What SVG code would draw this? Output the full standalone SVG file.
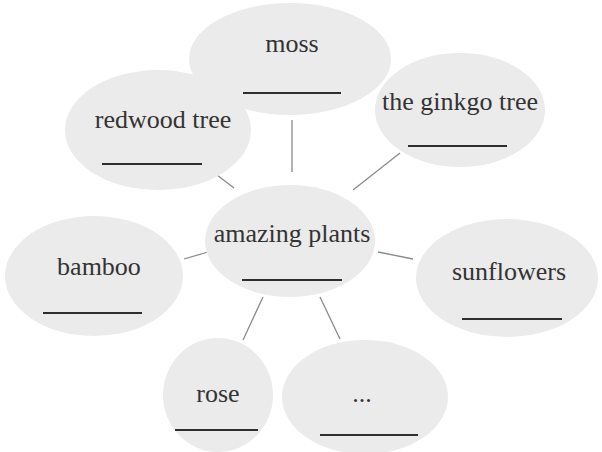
<svg xmlns="http://www.w3.org/2000/svg" width="602" height="452" viewBox="0 0 602 452">
<style>
.bub{fill:#ebebeb;stroke:none}
.lbl{font-family:"Liberation Serif","Times New Roman",serif;font-size:26px;fill:#333;text-anchor:middle}
.ul{stroke:#2e2e2e;stroke-width:2.2}
.con{stroke:#8a8a8a;stroke-width:1.3;fill:none}
</style>
<rect width="602" height="452" fill="#ffffff"/>
<g id="connectors">
<line class="con" x1="292" y1="120" x2="292" y2="172"/>
<line class="con" x1="217" y1="175" x2="234" y2="188"/>
<line class="con" x1="400" y1="153" x2="353" y2="190"/>
<line class="con" x1="184" y1="259" x2="208" y2="252"/>
<line class="con" x1="378" y1="252" x2="413" y2="259"/>
<line class="con" x1="263" y1="297" x2="243" y2="340"/>
<line class="con" x1="320" y1="297" x2="340" y2="339"/>
</g>
<g id="moss">
<ellipse class="bub" cx="290" cy="59" rx="101" ry="56"/>
<text class="lbl" x="292" y="52">moss</text>
<line class="ul" x1="243" y1="93" x2="341" y2="93"/>
</g>
<g id="ginkgo">
<ellipse class="bub" cx="460" cy="110" rx="85" ry="57"/>
<text class="lbl" x="460" y="110">the ginkgo tree</text>
<line class="ul" x1="408" y1="146" x2="507" y2="146"/>
</g>
<g id="redwood">
<ellipse class="bub" cx="158" cy="130" rx="93" ry="60"/>
<text class="lbl" x="163" y="128">redwood tree</text>
<line class="ul" x1="102" y1="164" x2="202" y2="164"/>
</g>
<g id="bamboo">
<ellipse class="bub" cx="94" cy="276" rx="89" ry="60"/>
<text class="lbl" x="99" y="275">bamboo</text>
<line class="ul" x1="43" y1="313" x2="142" y2="313"/>
</g>
<g id="center">
<ellipse class="bub" cx="290" cy="241" rx="85" ry="56"/>
<text class="lbl" x="292" y="242">amazing plants</text>
<line class="ul" x1="242" y1="280" x2="342" y2="280"/>
</g>
<g id="sunflowers">
<ellipse class="bub" cx="507" cy="278" rx="91" ry="59"/>
<text class="lbl" x="509" y="280">sunflowers</text>
<line class="ul" x1="462" y1="319" x2="562" y2="319"/>
</g>
<g id="rose">
<ellipse class="bub" cx="218" cy="395" rx="55" ry="57"/>
<text class="lbl" x="218" y="402">rose</text>
<line class="ul" x1="175" y1="430" x2="258" y2="430"/>
</g>
<g id="more">
<ellipse class="bub" cx="365" cy="397" rx="83" ry="57"/>
<text class="lbl" x="362" y="402">...</text>
<line class="ul" x1="320" y1="435" x2="418" y2="435"/>
</g>
</svg>
